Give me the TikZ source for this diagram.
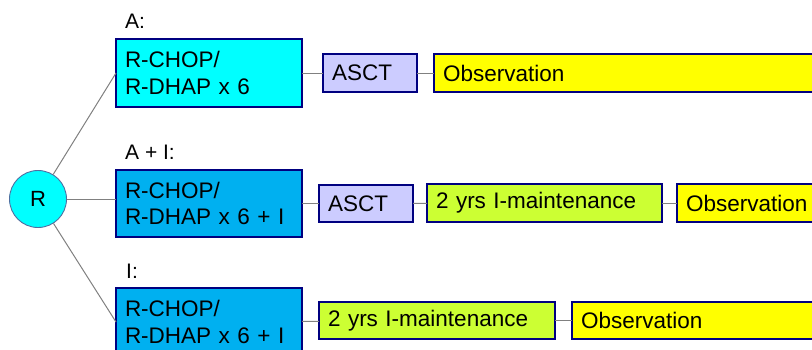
\documentclass[tikz,border=0pt]{standalone}
\usepackage{fontspec}
\setmainfont{Liberation Sans}
\usetikzlibrary{positioning}

\definecolor{navy}{RGB}{0,0,128}
\definecolor{aqua}{RGB}{0,255,255}
\definecolor{skyblue}{RGB}{0,176,240}
\definecolor{lavender}{RGB}{204,204,255}
\definecolor{lime}{RGB}{204,255,51}
\definecolor{sunny}{RGB}{255,255,0}
\definecolor{wire}{RGB}{128,128,128}

\begin{document}
\begin{tikzpicture}[
x=1pt, y=-1pt,
stage/.style={draw=navy, line width=1.8pt, anchor=north west, outer sep=0pt,
  inner xsep=9pt, inner ysep=3pt, align=left, text=black,
  font=\fontsize{22.5}{26.7}\selectfont},
arm/.style={anchor=west, inner sep=0pt, font=\fontsize{21}{24}\selectfont},
conn/.style={draw=wire, line width=1pt} ]

\useasboundingbox (0,0) rectangle (812,349);
\clip (0,0) rectangle (812,349);

% randomisation
\node[circle, draw={rgb,255:red,80;green,110;blue,160}, line width=0.9pt, fill=aqua,
  minimum size=57pt, inner sep=0pt, font=\fontsize{22}{26}\selectfont] (R) at (38,199) {R};

% arm A
\node[arm] (la) at (125,21) {A:};
\node[stage, fill=aqua, text width=168pt, minimum height=68pt] (a1) at (116,39) {R-CHOP/\\R-DHAP x 6};
\node[stage, fill=lavender, text width=76pt, minimum height=38pt] (a2) at (323,54) {ASCT};
\node[stage, fill=sunny, text width=380pt, minimum height=38pt] (a3) at (434,54) {Observation};

% arm A + I
\node[arm] (lb) at (125,152) {A + I:};
\node[stage, fill=skyblue, text width=168pt, minimum height=67pt] (b1) at (116,170) {R-CHOP/\\R-DHAP x 6 + I};
\node[stage, fill=lavender, text width=76pt, minimum height=37pt] (b2) at (319,185) {ASCT};
\node[stage, fill=lime, text width=217pt, minimum height=38pt] (b3) at (427,184) {2 yrs I-maintenance};
\node[stage, fill=sunny, text width=160pt, minimum height=38pt] (b4) at (677,184) {Observation};

% arm I
\node[arm] (lc) at (126,271) {I:};
\node[stage, fill=skyblue, text width=168pt, minimum height=68pt] (c1) at (116,288) {R-CHOP/\\R-DHAP x 6 + I};
\node[stage, fill=lime, text width=218pt, minimum height=37pt] (c2) at (319,302) {2 yrs I-maintenance};
\node[stage, fill=sunny, text width=250pt, minimum height=37pt] (c3) at (572,302) {Observation};

% branches
\draw[conn] (R) -- (a1.west);
\draw[conn] (R.east) -- (R.east -| b1.west);
\draw[conn] (R) -- (c1.west);

\draw[conn] (a1) -- (a2);
\draw[conn] (a2) -- (a3);
\draw[conn] (b1) -- (b2);
\draw[conn] (b2) -- (b3);
\draw[conn] (b3) -- (b4);
\draw[conn] (c1) -- (c2);
\draw[conn] (c2) -- (c3);

\end{tikzpicture}
\end{document}
